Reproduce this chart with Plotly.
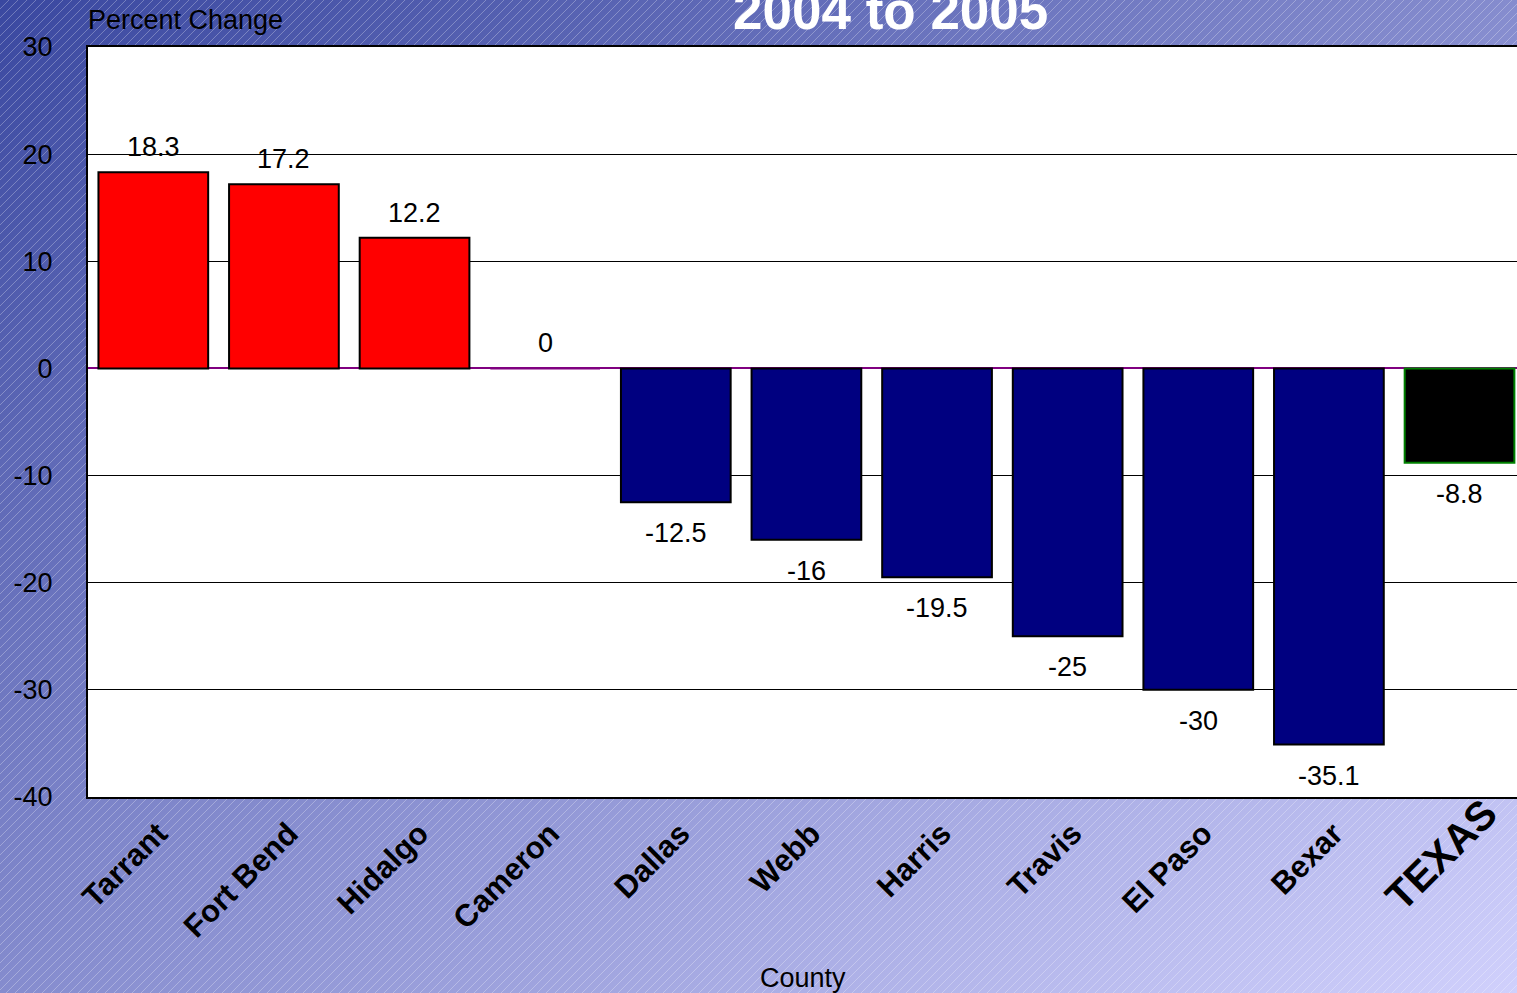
import base64
import plotly.graph_objects as go

# Percent change by county, 2004 to 2005
counties = ["Tarrant", "Fort Bend", "Hidalgo", "Cameron", "Dallas", "Webb",
            "Harris", "Travis", "El Paso", "Bexar", "TEXAS"]
pct_change = [18.3, 17.2, 12.2, 0, -12.5, -16, -19.5, -25, -30, -35.1, -8.8]
bar_colors = ["#ff0000", "#ff0000", "#ff0000", "#800080", "#000080", "#000080",
              "#000080", "#000080", "#000080", "#000080", "#000000"]
edge_colors = ["#000000", "#000000", "#000000", "#800080", "#000000", "#000000",
               "#000000", "#000000", "#000000", "#000000", "#008000"]
y_ticks = [30, 20, 10, 0, -10, -20, -30, -40]
y_tick_text = ["30", "20", "10", "0", "-10", "-20", "-30", "-40"]

W, H = 1517, 993
ML, MT, MB, MR = 88, 47, 196, 0
FONT = "Liberation Sans, Arial, sans-serif"

# Diagonal gradient background with fine white hatching
svg = f"""<svg xmlns='http://www.w3.org/2000/svg' width='{W}' height='{H}'>
<defs>
<linearGradient id='g' x1='0' y1='0' x2='1' y2='1'>
<stop offset='0' stop-color='#3a48a0'/>
<stop offset='1' stop-color='#d0d0fc'/>
</linearGradient>
<pattern id='h' width='9' height='9' patternUnits='userSpaceOnUse'>
<path d='M0,9 L9,0 M-1,1 L1,-1 M8,10 L10,8' stroke='white' stroke-opacity='0.35' stroke-width='0.8'/>
</pattern>
</defs>
<rect width='{W}' height='{H}' fill='url(#g)'/>
<rect width='{W}' height='{H}' fill='url(#h)'/>
</svg>"""
bg_uri = "data:image/svg+xml;base64," + base64.b64encode(svg.encode()).decode()

pw, ph = W - ML - MR, H - MT - MB


def px_x(px):
    return (px - ML) / pw


def px_y(py):
    return 1 - (py - MT) / ph


fig = go.Figure()
fig.add_trace(go.Bar(
    x=list(range(len(counties))),
    y=pct_change,
    width=0.84,
    marker=dict(color=bar_colors, line=dict(color=edge_colors, width=2)),
    hoverinfo="skip",
))

# value labels above positive bars, below negative ones
annotations = []
for i, v in enumerate(pct_change):
    annotations.append(dict(
        x=i, y=v, xref="x", yref="y", text=f"{v:g}", showarrow=False,
        yanchor="bottom" if v >= 0 else "top",
        yshift=8 if v >= 0 else -14,
        font=dict(family=FONT, size=27, color="black"),
    ))

annotations += [
    dict(text="Percent Change", xref="paper", yref="paper", x=px_x(86), y=px_y(20),
         xanchor="left", yanchor="middle", showarrow=False,
         font=dict(family=FONT, size=27, color="black")),
    dict(text="<b>2004 to 2005</b>", xref="paper", yref="paper",
         x=px_x(890), y=px_y(10), xanchor="center", yanchor="middle",
         showarrow=False, font=dict(family=FONT, size=53, color="white")),
    dict(text="County", xref="paper", yref="paper", x=px_x(803), y=px_y(978),
         xanchor="center", yanchor="middle", showarrow=False,
         font=dict(family=FONT, size=27, color="black")),
    # the state total gets a larger label
    dict(text="<b>TEXAS</b>", xref="paper", yref="paper", x=px_x(1441), y=px_y(855),
         xanchor="center", yanchor="middle", textangle=-45, showarrow=False,
         font=dict(family=FONT, size=41, color="black")),
]

tick_text = [f"<b>{c}</b>" if c != "TEXAS" else "" for c in counties]

fig.update_layout(
    width=W, height=H,
    margin=dict(l=ML, r=MR, t=MT, b=MB, pad=0),
    paper_bgcolor="#8890d0",
    plot_bgcolor="white",
    showlegend=False,
    annotations=annotations,
    images=[dict(source=bg_uri, xref="paper", yref="paper",
                 x=-ML / pw, y=1 + MT / ph, sizex=W / pw, sizey=H / ph,
                 xanchor="left", yanchor="top", sizing="stretch", layer="below")],
    shapes=[dict(type="rect", xref="paper", yref="paper", x0=0, x1=1, y0=0, y1=1,
                 fillcolor="white", line=dict(width=0), layer="below")],
    xaxis=dict(
        range=[-0.5, len(counties) - 0.56],
        tickmode="array", tickvals=list(range(len(counties))), ticktext=tick_text,
        tickangle=-45, tickfont=dict(family=FONT, size=31, color="black"),
        ticklabelshift=5,
        showgrid=False, zeroline=False,
        showline=True, linecolor="black", linewidth=2, mirror=True,
        ticks="outside", ticklen=4, tickcolor="rgba(0,0,0,0)",
    ),
    yaxis=dict(
        range=[-40, 30], tickmode="array", tickvals=y_ticks, ticktext=y_tick_text,
        tickfont=dict(family=FONT, size=27, color="black"),
        showgrid=True, gridcolor="black", gridwidth=1,
        zeroline=True, zerolinecolor="#800080", zerolinewidth=2,
        showline=True, linecolor="black", linewidth=2,
        ticks="outside", ticklen=28, tickcolor="rgba(0,0,0,0)",
    ),
)

fig.write_html("out.html")
